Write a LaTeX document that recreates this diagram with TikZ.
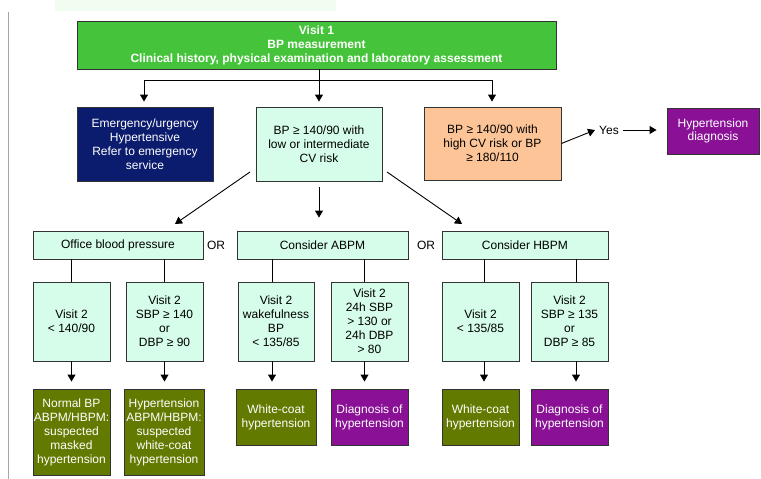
\documentclass[tikz,border=0pt]{standalone}
\usepackage{fontspec}
\setmainfont{Liberation Sans}
\usetikzlibrary{arrows.meta}
\definecolor{topgreen}{HTML}{45C43B}
\definecolor{navy}{HTML}{0B1B6D}
\definecolor{mint}{HTML}{D5FDE9}
\definecolor{peach}{HTML}{FDC597}
\definecolor{plum}{HTML}{8A1196}
\definecolor{olive}{HTML}{637A00}
\definecolor{edge}{HTML}{333333}
\definecolor{faint}{HTML}{F0FDF0}
\tikzset{
  box/.style={draw=edge, line width=0.9pt, inner sep=0pt, align=center,
    font=\fontsize{12}{14}\selectfont},
  lightbox/.style={box, fill=mint, text=black},
  olivebox/.style={box, fill=olive, text=white},
  plumbox/.style={box, fill=plum, text=white},
  conn/.style={line width=0.9pt, draw=black},
  arr/.style={conn, -{Triangle[width=8pt,length=7pt]}},
  lbl/.style={inner sep=0pt, font=\fontsize{12}{14}\selectfont}
}
\begin{document}
\begin{tikzpicture}[x=1pt,y=-1pt]
\useasboundingbox (0,0) rectangle (761,479);
\fill[faint] (55,0) rectangle (336,11);
\draw[gray!70, line width=0.8pt] (8,12) -- (8,479);

% top
\node[box, fill=topgreen, text=white, font=\fontsize{12}{14}\selectfont\bfseries,
  minimum width=479pt, minimum height=48pt] (visit1) at (316.5,45)
  {Visit 1\\BP measurement\\Clinical history, physical examination and laboratory assessment};

% level 1
\node[box, fill=navy, text=white, minimum width=136pt, minimum height=74pt] (emerg) at (145,144)
  {Emergency/urgency\\Hypertensive\\Refer to emergency\\service};
\node[lightbox, minimum width=126pt, minimum height=74pt] (low) at (319,144)
  {BP ≥ 140/90 with\\low or intermediate\\CV risk};
\node[box, fill=peach, text=black, minimum width=137pt, minimum height=73pt] (high) at (492.5,143.5)
  {BP ≥ 140/90 with\\high CV risk or BP\\≥ 180/110};
\node[lbl] (yes) at (609,130) {Yes};
\node[plumbox, minimum width=92pt, minimum height=46pt, font=\fontsize{12}{13}\selectfont] (hdiag) at (713,131)
  {Hypertension\\diagnosis};

% top connectors
\coordinate (split) at (319,80);
\coordinate (hl) at (144,80);
\coordinate (hr) at (492,80);
\draw[conn] (visit1.south -| split) -- (split);
\draw[conn] (hl) -- (hr);
\draw[arr, shorten >=5pt] (hl) -- (hl |- emerg.north);
\draw[arr, shorten >=5pt] (split) -- (low.north);
\draw[arr, shorten >=5pt] (hr) -- (hr |- high.north);
\draw[arr] (high.east) -- ([xshift=-4pt]yes.west);
\draw[arr, shorten >=10pt] ([xshift=4pt]yes.east) -- (hdiag.west |- yes);

% level 2
\node[lightbox, minimum width=170pt, minimum height=28pt] (office) at (118,245) {Office blood pressure};
\node[lightbox, minimum width=171pt, minimum height=28pt] (abpm) at (322.5,245) {Consider ABPM};
\node[lightbox, minimum width=166pt, minimum height=28pt] (hbpm) at (525,245) {Consider HBPM};
\node[lbl] (or1) at (216,245) {OR};
\node[lbl] (or2) at (426,245) {OR};

\coordinate (dl0) at (250,172);
\coordinate (dl1) at (175,224);
\coordinate (dr0) at (387,172);
\coordinate (dr1) at (462,224);
\draw[arr] (dl0) -- (dl1);
\draw[arr] (dr0) -- (dr1);
\draw[arr, shorten <=6pt, shorten >=13pt] (low.south) -- (abpm.north -| low.south);

% level 3
\node[lightbox, minimum width=77pt, minimum height=79pt] (v1) at (71.5,321.5) {Visit 2\\< 140/90};
\node[lightbox, minimum width=77pt, minimum height=79pt] (v2) at (164.5,321.5) {Visit 2\\SBP ≥ 140\\or\\DBP ≥ 90};
\node[lightbox, minimum width=76pt, minimum height=79pt] (v3) at (276,321.5) {Visit 2\\wakefulness\\BP\\< 135/85};
\node[lightbox, minimum width=77pt, minimum height=79pt] (v4) at (369.5,321.5) {Visit 2\\24h SBP\\> 130 or\\24h DBP\\> 80};
\node[lightbox, minimum width=77pt, minimum height=79pt] (v5) at (480.5,321.5) {Visit 2\\< 135/85};
\node[lightbox, minimum width=77pt, minimum height=79pt] (v6) at (569.5,321.5) {Visit 2\\SBP ≥ 135\\or\\DBP ≥ 85};

\draw[conn] (office.south -| v1.north) -- (v1.north);
\draw[conn] (office.south -| v2.north) -- (v2.north);
\draw[conn] ([xshift=-4pt]abpm.south -| v3.north) -- ([xshift=-4pt]v3.north);
\draw[conn] ([xshift=-5pt]abpm.south -| v4.north) -- ([xshift=-5pt]v4.north);
\draw[conn] ([xshift=3.5pt]hbpm.south -| v5.north) -- ([xshift=3.5pt]v5.north);
\draw[conn] ([xshift=6.5pt]hbpm.south -| v6.north) -- ([xshift=6.5pt]v6.north);

% level 4
\node[olivebox, minimum width=77pt, minimum height=86pt] (r1) at (71.5,432)
  {Normal BP\\ABPM/HBPM:\\suspected\\masked\\hypertension};
\node[olivebox, minimum width=80pt, minimum height=86pt] (r2) at (164,432)
  {Hypertension\\ABPM/HBPM:\\suspected\\white-coat\\hypertension};
\node[olivebox, minimum width=80pt, minimum height=56pt] (r3) at (276,417)
  {White-coat\\hypertension};
\node[plumbox, minimum width=77pt, minimum height=56pt] (r4) at (369.5,417)
  {Diagnosis of\\hypertension};
\node[olivebox, minimum width=77pt, minimum height=56pt] (r5) at (480.5,417)
  {White-coat\\hypertension};
\node[plumbox, minimum width=77pt, minimum height=56pt] (r6) at (569.5,417)
  {Diagnosis of\\hypertension};

\draw[arr, shorten >=7pt] (v1.south) -- (v1.south |- r1.north);
\draw[arr, shorten >=7pt] (v2.south) -- (v2.south |- r2.north);
\draw[arr, shorten >=7pt] ([xshift=-4pt]v3.south) -- ([xshift=-4pt]v3.south |- r3.north);
\draw[arr, shorten >=7pt] ([xshift=-5pt]v4.south) -- ([xshift=-5pt]v4.south |- r4.north);
\draw[arr, shorten >=7pt] ([xshift=3.5pt]v5.south) -- ([xshift=3.5pt]v5.south |- r5.north);
\draw[arr, shorten >=7pt] ([xshift=6.5pt]v6.south) -- ([xshift=6.5pt]v6.south |- r6.north);
\end{tikzpicture}
\end{document}
